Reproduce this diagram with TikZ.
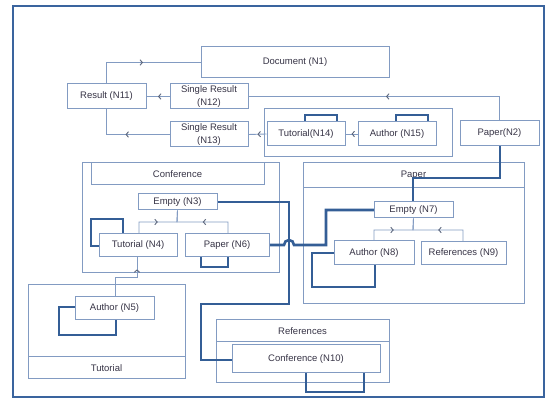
\documentclass[tikz,border=0pt]{standalone}
\usepackage{fontspec}
\setmainfont{Liberation Sans}
\usetikzlibrary{arrows.meta,decorations.markings}
\definecolor{thinc}{RGB}{130,155,194}
\definecolor{thickc}{RGB}{52,94,150}
\definecolor{framec}{RGB}{58,100,158}
\definecolor{txtc}{RGB}{55,52,70}
\definecolor{arrc}{RGB}{92,102,124}
\tikzset{
  >={Straight Barb[length=2.4pt,width=5.5pt]},
  grp/.style={draw=thinc, line width=1pt},
  blk/.style={draw=thinc, fill=white, line width=1pt, inner sep=0pt, align=center,
    text=txtc, font=\fontsize{9.5}{12.5}\selectfont},
  lbl/.style={text=txtc, font=\fontsize{9.5}{12.5}\selectfont, inner sep=0pt},
  lnk/.style={color=thinc, line width=0.9pt, postaction={decorate},
    decoration={markings, mark=at position #1 with {\pgfsetstrokecolor{arrc}\arrow{>}}}},
  lnk/.default=0.5,
  own/.style={draw=thickc, line width=2.6pt, line join=miter},
}
\begin{document}
\begin{tikzpicture}[x=1pt, y=-1pt]
  \useasboundingbox (0,0) rectangle (547,398);
  \draw[framec, line width=2.8pt] (13,6) rectangle (544,397);

  % groups
  \draw[grp] (264,109) rectangle (452,157);
  \draw[grp] (82,163) rectangle (279,273);
  \draw[grp] (91,163) rectangle (264,185);
  \node[lbl] (conf) at (177.5,174) {Conference};
  \draw[grp] (28,285) rectangle (185,379);
  \draw[grp] (28,357) -- (185,357);
  \node[lbl] (tut) at (106.5,368) {Tutorial};
  \draw[grp] (303,163) rectangle (524,304);
  \draw[grp] (303,188) -- (524,188);
  \node[lbl] (pap) at (413.5,175) {Paper};
  \draw[grp] (216,320) rectangle (389,383);
  \draw[grp] (216,342) -- (389,342);
  \node[lbl] (refs) at (302.5,331) {References};

  % thick links
  \draw[own] (217,202) -- (289,202) -- (289,304) -- (201,304) -- (201,360) -- (232,360);
  \draw[own] (269,245) -- (284,245) arc[start angle=180, end angle=360, radius=5]
    -- (326,245) -- (326,210) -- (374,210);
  \draw[own] (500,146) -- (500,178) -- (413,178) -- (413,202);
  \draw[own] (305,122) |- (337,115) -- (337,122);
  \draw[own] (396,122) |- (428,115) -- (428,122);
  \draw[own] (99,246) -| (91,219) -| (123,234);
  \draw[own] (201,257) |- (228,267) -- (228,257);
  \draw[own] (75,307) -| (59,335) -| (116,320);
  \draw[own] (334,253) -| (312,287) -| (375,265);
  \draw[own] (306,373) |- (364,392) -- (364,373);

  % nodes
  \node[blk, minimum width=188pt, minimum height=31pt] (n1) at (295,62.5) {Document (N1)};
  \node[blk, minimum width=79pt, minimum height=25pt] (n11) at (106.5,96.5) {Result (N11)};
  \node[blk, minimum width=78pt, minimum height=25pt] (n12) at (209,96.5) {Single Result\\(N12)};
  \node[blk, minimum width=78pt, minimum height=25pt] (n13) at (209,134.5) {Single Result\\(N13)};
  \node[blk, minimum width=78pt, minimum height=24pt] (n14) at (306,134) {Tutorial(N14)};
  \node[blk, minimum width=78pt, minimum height=24pt] (n15) at (397,134) {Author (N15)};
  \node[blk, minimum width=79pt, minimum height=25pt] (n2) at (499.5,133.5) {Paper(N2)};
  \node[blk, minimum width=79pt, minimum height=16pt] (n3) at (177.5,202) {Empty (N3)};
  \node[blk, minimum width=78pt, minimum height=23pt] (n4) at (138,245.5) {Tutorial (N4)};
  \node[blk, minimum width=84pt, minimum height=23pt] (n6) at (227,245.5) {Paper (N6)};
  \node[blk, minimum width=79pt, minimum height=23pt] (n5) at (114.5,308.5) {Author (N5)};
  \node[blk, minimum width=79pt, minimum height=16pt] (n7) at (413.5,210) {Empty (N7)};
  \node[blk, minimum width=80pt, minimum height=24pt] (n8) at (374,253) {Author (N8)};
  \node[blk, minimum width=85pt, minimum height=23pt] (n9) at (463.5,253.5) {References (N9)};
  \node[blk, minimum width=148pt, minimum height=28pt] (n10) at (306,359) {Conference (N10)};

  % thin links
  \draw[lnk] (n11.north) |- (n1.west);
  \draw[lnk] (n12.west) -- (n11.east);
  \draw[lnk] (n13.west) -| (n11.south);
  \draw[lnk] (n14.west) -- (n13.east);
  \draw[lnk] (n15.west) -- (n14.east);
  \draw[lnk] (n2.north) |- (n12.east);
  \draw[lnk] (139,234) |- (177,222) -- (n3.south);
  \draw[lnk] (228,234) |- (177,222) -- (n3.south);
  \draw[lnk=.8] (115,297) |- (137,277) -- (137,257);
  \draw[lnk] (374,241) |- (413,230) -- (n7.south);
  \draw[lnk] (463,242) |- (413,230) -- (n7.south);
\end{tikzpicture}
\end{document}
